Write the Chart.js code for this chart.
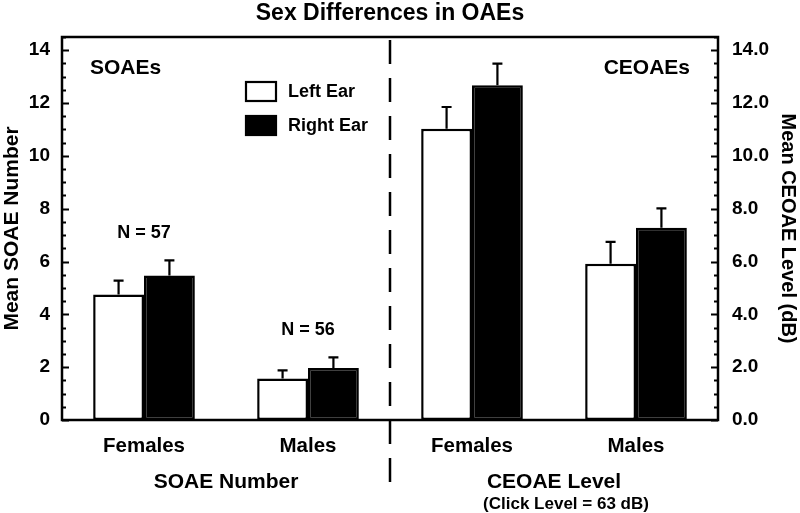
<!DOCTYPE html>
<html>
<head>
<meta charset="utf-8">
<script src="https://cdn.jsdelivr.net/npm/chart.js@4.4.1/dist/chart.umd.min.js"></script>
<style>
  html, body { margin: 0; padding: 0; background: #fff; }
  #wrap { width: 800px; height: 513px; }
</style>
</head>
<body>
<div id="wrap"><canvas id="oae-chart"></canvas></div>
<script>
// Data
const categories = ["Females", "Males", "Females", "Males"];
const groupLabels = ["SOAE Number", "CEOAE Level"];
const leftEar = [4.75, 1.57, 11.03, 5.92];
const rightEar = [5.47, 1.97, 12.67, 7.28];
const leftErr = [0.53, 0.31, 0.82, 0.82];
const rightErr = [0.57, 0.4, 0.82, 0.73];
const sampleSizes = ["N = 57", "N = 56"];
const yTickValues = [0, 2, 4, 6, 8, 10, 12, 14];
const yMin = 0;
const yMax = 14.5;
const yMinorStep = 0.5;

const FONT = "'Liberation Sans', Arial, Helvetica, sans-serif";

const errorsBySet = [leftErr, rightErr];

const oaePlugin = {
  id: "oaeExtras",
  afterDatasetsDraw(chart) {
    const ctx = chart.ctx;
    const yScale = chart.scales.y;
    ctx.save();
    ctx.strokeStyle = "#000";
    ctx.lineWidth = 2.2;
    chart.data.datasets.forEach((ds, i) => {
      const meta = chart.getDatasetMeta(i);
      meta.data.forEach((bar, j) => {
        const top = yScale.getPixelForValue(ds.data[j] + errorsBySet[i][j]);
        ctx.beginPath();
        ctx.moveTo(bar.x, bar.y);
        ctx.lineTo(bar.x, top);
        ctx.moveTo(bar.x - 5, top);
        ctx.lineTo(bar.x + 5, top);
        ctx.stroke();
      });
    });
    ctx.restore();
  },
  afterDraw(chart) {
    const ctx = chart.ctx;
    const area = chart.chartArea;
    const x = chart.scales.x;
    const y = chart.scales.y;
    ctx.save();

    // frame
    ctx.strokeStyle = "#000";
    ctx.lineWidth = 2.5;
    ctx.strokeRect(area.left, area.top, area.right - area.left, area.bottom - area.top);

    // inward ticks on both value axes
    ctx.lineWidth = 2;
    for (let v = yMin; v <= yMax + 1e-9; v += yMinorStep) {
      const py = Math.round(y.getPixelForValue(v)) + 0.5;
      const len = yTickValues.includes(v) ? 7 : 4;
      ctx.beginPath();
      ctx.moveTo(area.left, py);
      ctx.lineTo(area.left + len, py);
      ctx.moveTo(area.right, py);
      ctx.lineTo(area.right - len, py);
      ctx.stroke();
    }

    // dashed divider between the two measures
    const midX = (x.getPixelForValue(1) + x.getPixelForValue(2)) / 2;
    ctx.setLineDash([24, 14]);
    ctx.lineWidth = 2.5;
    ctx.beginPath();
    ctx.moveTo(midX, area.top + 3);
    ctx.lineTo(midX, area.bottom + 72);
    ctx.stroke();
    ctx.setLineDash([]);

    ctx.fillStyle = "#000";
    ctx.textBaseline = "middle";

    // title
    ctx.textAlign = "center";
    ctx.font = "bold 23px " + FONT;
    ctx.fillText("Sex Differences in OAEs", (area.left + area.right) / 2, 14);

    // panel labels
    ctx.font = "bold 21px " + FONT;
    ctx.textAlign = "left";
    ctx.fillText("SOAEs", area.left + 28, 68);
    ctx.textAlign = "right";
    ctx.fillText("CEOAEs", area.right - 28, 68);

    // N annotations above the SOAE groups
    ctx.font = "bold 18px " + FONT;
    ctx.textAlign = "center";
    sampleSizes.forEach((t, i) => {
      const top = y.getPixelForValue(Math.max(leftEar[i] + leftErr[i], rightEar[i] + rightErr[i]));
      ctx.fillText(t, x.getPixelForValue(i), top - 27);
    });

    // legend
    const lx = 246, ly = 82;
    chart.data.datasets.forEach((ds, i) => {
      const by = ly + i * 34;
      ctx.fillStyle = ds.backgroundColor;
      ctx.fillRect(lx, by, 30, 19);
      ctx.strokeStyle = "#000";
      ctx.lineWidth = 2.2;
      ctx.strokeRect(lx, by, 30, 19);
      ctx.fillStyle = "#000";
      ctx.textAlign = "left";
      ctx.font = "bold 18px " + FONT;
      ctx.fillText(ds.label, lx + 42, by + 10);
    });

    // group labels under the category ticks
    ctx.textAlign = "center";
    ctx.font = "bold 21px " + FONT;
    const g1 = (x.getPixelForValue(0) + x.getPixelForValue(1)) / 2;
    const g2 = (x.getPixelForValue(2) + x.getPixelForValue(3)) / 2;
    ctx.fillText(groupLabels[0], g1, 482);
    ctx.fillText(groupLabels[1], g2, 482);
    ctx.font = "bold 17px " + FONT;
    ctx.fillText("(Click Level = 63 dB)", g2 + 12, 504);

    ctx.restore();
  }
};

const fixedTicks = (s) => {
  s.ticks = yTickValues.map((v) => ({ value: v }));
};

const ctx = document.getElementById("oae-chart").getContext("2d");
new Chart(ctx, {
  type: "bar",
  data: {
    labels: categories,
    datasets: [
      {
        label: "Left Ear",
        data: leftEar,
        backgroundColor: "#ffffff",
        borderColor: "#000000",
        borderWidth: 2.5,
        borderSkipped: false,
      },
      {
        label: "Right Ear",
        data: rightEar,
        backgroundColor: "#000000",
        borderColor: "#000000",
        borderWidth: 2.5,
        borderSkipped: false,
      },
    ],
  },
  options: {
    responsive: true,
    maintainAspectRatio: false,
    animation: false,
    layout: { padding: { top: 37, left: 0, right: 0, bottom: 0 } },
    categoryPercentage: 0.62,
    barPercentage: 1,
    plugins: {
      legend: { display: false },
      title: { display: false },
      tooltip: { enabled: false },
    },
    scales: {
      x: {
        grid: { display: false, drawTicks: false },
        border: { display: false },
        ticks: {
          color: "#000",
          padding: 14,
          font: { family: FONT, size: 20.5, weight: "bold" },
        },
        afterFit: (s) => { s.height = 93; },
      },
      y: {
        position: "left",
        min: yMin,
        max: yMax,
        grid: { display: false, drawTicks: false },
        border: { display: false },
        afterBuildTicks: fixedTicks,
        ticks: {
          padding: 12,
          color: "#000",
          font: { family: FONT, size: 19, weight: "bold" },
        },
        title: {
          display: true,
          text: "Mean SOAE Number",
          color: "#000",
          padding: 0,
          font: { family: FONT, size: 21, weight: "bold" },
        },
        afterFit: (s) => { s.width = 62; },
      },
      y1: {
        position: "right",
        min: yMin,
        max: yMax,
        grid: { display: false, drawTicks: false },
        border: { display: false },
        afterBuildTicks: fixedTicks,
        ticks: {
          padding: 14,
          color: "#000",
          font: { family: FONT, size: 19, weight: "bold" },
          callback: (v) => v.toFixed(1),
        },
        title: {
          display: true,
          text: "Mean CEOAE Level (dB)",
          color: "#000",
          padding: 0,
          font: { family: FONT, size: 20, weight: "bold" },
        },
        afterFit: (s) => { s.width = 82; },
      },
    },
  },
  plugins: [oaePlugin],
});
</script>
</body>
</html>
